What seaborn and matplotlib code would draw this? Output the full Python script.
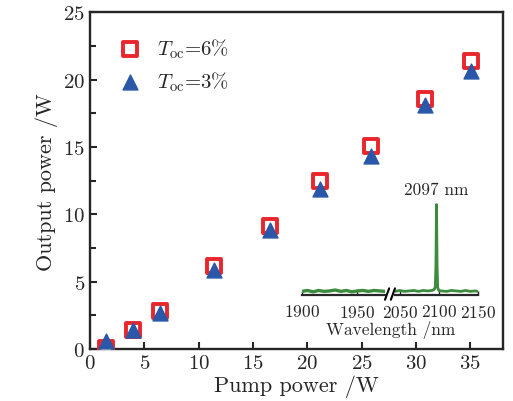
import pandas as pd
import matplotlib
matplotlib.use("Agg")
import matplotlib.pyplot as plt
import seaborn as sns

# Output power vs pump power
pump_6 = [1.5, 4.0, 6.4, 11.4, 16.6, 21.2, 25.9, 30.85, 35.05]
out_6 = [0.05, 1.4, 2.85, 6.2, 9.15, 12.5, 15.1, 18.55, 21.4]
pump_3 = [1.5, 4.0, 6.4, 11.4, 16.6, 21.2, 25.9, 30.85, 35.05]
out_3 = [0.62, 1.4, 2.65, 5.85, 8.85, 11.9, 14.35, 18.1, 20.65]

# Inset spectrum (two segments of a broken wavelength axis)
wl_left = [1900, 1905, 1910, 1915, 1920, 1925, 1930, 1935, 1940, 1945, 1950,
           1955, 1960, 1965, 1970, 1975]
int_left = [0.04, 0.05, 0.035, 0.05, 0.04, 0.045, 0.055, 0.04, 0.05, 0.035,
            0.045, 0.05, 0.04, 0.05, 0.045, 0.04]
wl_right = [2044, 2050, 2056, 2062, 2068, 2074, 2080, 2086, 2091, 2094, 2095.5,
            2096.3, 2097, 2097.7, 2098.5, 2100, 2103, 2110, 2116, 2122, 2128,
            2134, 2140, 2146, 2150]
int_right = [0.04, 0.05, 0.04, 0.045, 0.05, 0.04, 0.05, 0.045, 0.05, 0.06, 0.09,
             0.35, 1.0, 0.35, 0.08, 0.05, 0.045, 0.04, 0.05, 0.045, 0.04,
             0.05, 0.04, 0.045, 0.04]

df = pd.DataFrame({
    "pump": pump_6 + pump_3,
    "output": out_6 + out_3,
    "Toc": ["6%"] * len(pump_6) + ["3%"] * len(pump_3),
})

sns.set_style("ticks")
plt.rcParams["font.family"] = ["cmr10", "DejaVu Serif"]
plt.rcParams["mathtext.fontset"] = "cm"
plt.rcParams["axes.formatter.use_mathtext"] = True

red = "#e8262c"
blue = "#2a57a8"
green = "#3d8c3d"

fig = plt.figure(figsize=(5.13, 4.02), dpi=100)
ax = fig.add_axes([0.1754, 0.129, 0.8051, 0.838])

d6 = df[df["Toc"] == "6%"]
d3 = df[df["Toc"] == "3%"]
sns.scatterplot(data=d6, x="pump", y="output", ax=ax, marker="s", s=95,
                facecolor="white", edgecolor=red, linewidth=2.8,
                label=r"$T_{\rm oc}$=6%", zorder=3)
sns.scatterplot(data=d3, x="pump", y="output", ax=ax, marker="^", s=115,
                color=blue, edgecolor=blue, linewidth=1,
                label=r"$T_{\rm oc}$=3%", zorder=4)

ax.set_xlim(0, 38)
ax.set_ylim(0, 25)
ax.set_xticks([0, 5, 10, 15, 20, 25, 30, 35])
ax.set_yticks([0, 5, 10, 15, 20, 25])
ax.set_yticks([2.5, 7.5, 12.5, 17.5, 22.5], minor=True)
ax.tick_params(which="both", direction="in", width=1.5, labelsize=15)
ax.tick_params(which="major", length=5)
ax.tick_params(which="minor", length=4)
for sp in ax.spines.values():
    sp.set_linewidth(1.7)
ax.set_xlabel("Pump power /W", fontsize=16, labelpad=2)
ax.set_ylabel("Output power /W", fontsize=16, labelpad=4)

ax.legend(loc="upper left", bbox_to_anchor=(0.0, 0.985), frameon=False,
          fontsize=15, handletextpad=0.3, labelspacing=0.45)

# Inset spectrum with broken axis
W, H = 513, 402
bot = (H - 296) / H
hgt = 95 / H
ax_l = fig.add_axes([302 / W, bot, 83 / W, hgt])
ax_r = fig.add_axes([395 / W, bot, 83 / W, hgt])
sns.lineplot(x=wl_left, y=int_left, ax=ax_l, color=green, linewidth=2.4)
sns.lineplot(x=wl_right, y=int_right, ax=ax_r, color=green, linewidth=2.0)
ax_l.set_xlim(1900, 1975)
ax_r.set_xlim(2044, 2150)
ax_l.set_xticks([1900, 1950])
ax_r.set_xticks([2050, 2100, 2150])
for a in (ax_l, ax_r):
    a.set_ylim(0, 1.05)
    a.patch.set_alpha(0)
    a.set_yticks([])
    for s in ("top", "right", "left"):
        a.spines[s].set_visible(False)
    a.spines["bottom"].set_linewidth(1.6)
    a.tick_params(axis="x", direction="in", length=3, width=1, labelsize=12.5, pad=6)

# break marks
kw = dict(color="black", linewidth=1.5, clip_on=False)
ax_l.plot([1.0, 1.05], [-0.05, 0.07], transform=ax_l.transAxes, **kw)
ax_r.plot([-0.05, 0.0], [-0.05, 0.07], transform=ax_r.transAxes, **kw)

ax_r.text(2097, 1.08, "2097 nm", ha="center", va="bottom", fontsize=12.5)
fig.text(391 / W, (H - 330) / H, "Wavelength /nm", ha="center", va="center",
         fontsize=12.5)

fig.savefig("out.png", dpi=100)
